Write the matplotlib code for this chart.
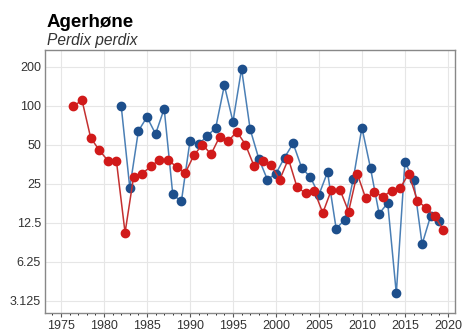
import matplotlib
matplotlib.use("Agg")
import matplotlib.pyplot as plt
from matplotlib.ticker import FixedLocator, MultipleLocator, NullFormatter

plt.rcParams['font.family'] = ['Liberation Sans', 'DejaVu Sans']

# red series (plotted half a year to the right)
red_years = list(range(1976, 2020))
red_values = [100, 110, 56.7, 45.5, 37.8, 37.3, 10.5, 28.5, 30, 34.2,
              38.4, 38.4, 33.7, 30.3, 41.5, 50.3, 42.3, 57.8, 53.5, 63.2,
              50.3, 34.4, 37.3, 34.8, 27, 39, 23.6, 21.2, 22.2, 14.9,
              22.5, 22.5, 15.3, 30, 19.3, 21.6, 19.9, 22.2, 23.2, 30,
              18.6, 16.3, 14.1, 11.1]

# blue series
blue_years = list(range(1982, 2020))
blue_values = [100, 23.3, 64, 82, 60.7, 95, 20.7, 18.3, 53.6, 50.6,
               58.4, 68, 144, 75.5, 193, 66, 39.2, 27, 30, 39.9,
               51.3, 33.2, 28.2, 20.6, 30.8, 11.3, 13.2, 27.4, 68, 33,
               14.7, 17.8, 3.57, 36.8, 27, 8.55, 14.2, 12.9]

y_ticks = [3.125, 6.25, 12.5, 25, 50, 100, 200]
y_labels = ['3.125', '6.25', '12.5', '25', '50', '100', '200']
x_ticks = [1975, 1980, 1985, 1990, 1995, 2000, 2005, 2010, 2015, 2020]

red_offset = 0.45

fig = plt.figure(figsize=(4.65, 3.33), dpi=100)
ax = fig.add_axes([0.097, 0.060, 0.881, 0.790])

ax.plot(blue_years, blue_values, color='#4a7fb5', lw=1.1, marker='o',
        markersize=6, markerfacecolor='#1d4f8c', markeredgecolor='#1d4f8c',
        zorder=3)
ax.plot([y + red_offset for y in red_years], red_values, color='#c43030',
        lw=1.1, marker='o', markersize=6, markerfacecolor='#d11a1a',
        markeredgecolor='#d11a1a', zorder=4)

ax.set_yscale('log', base=2)
ax.set_ylim(2.52, 270)
ax.yaxis.set_major_locator(FixedLocator(y_ticks))
ax.set_yticklabels(y_labels)
ax.yaxis.set_minor_formatter(NullFormatter())
ax.yaxis.set_minor_locator(FixedLocator([]))

ax.set_xlim(1973.15, 2020.8)
ax.set_xticks(x_ticks)
ax.xaxis.set_minor_locator(MultipleLocator(1))

ax.grid(True, which='major', color='#e6e6e6', lw=0.8)
ax.tick_params(axis='both', labelsize=9, labelcolor='#333333', colors='#555555')
ax.tick_params(axis='y', length=0, pad=3)
ax.tick_params(axis='x', which='major', length=3, pad=2)
ax.tick_params(axis='x', which='minor', length=1.5)
for s in ax.spines.values():
    s.set_color('#888888')
    s.set_linewidth(1.0)

fig.text(0.100, 0.918, 'Agerhøne', fontsize=13.5, fontweight='bold',
         ha='left', va='baseline')
fig.text(0.100, 0.866, 'Perdix perdix', fontsize=11.2, style='italic',
         color='#333333', ha='left', va='baseline')

fig.savefig('out.png', dpi=100)
